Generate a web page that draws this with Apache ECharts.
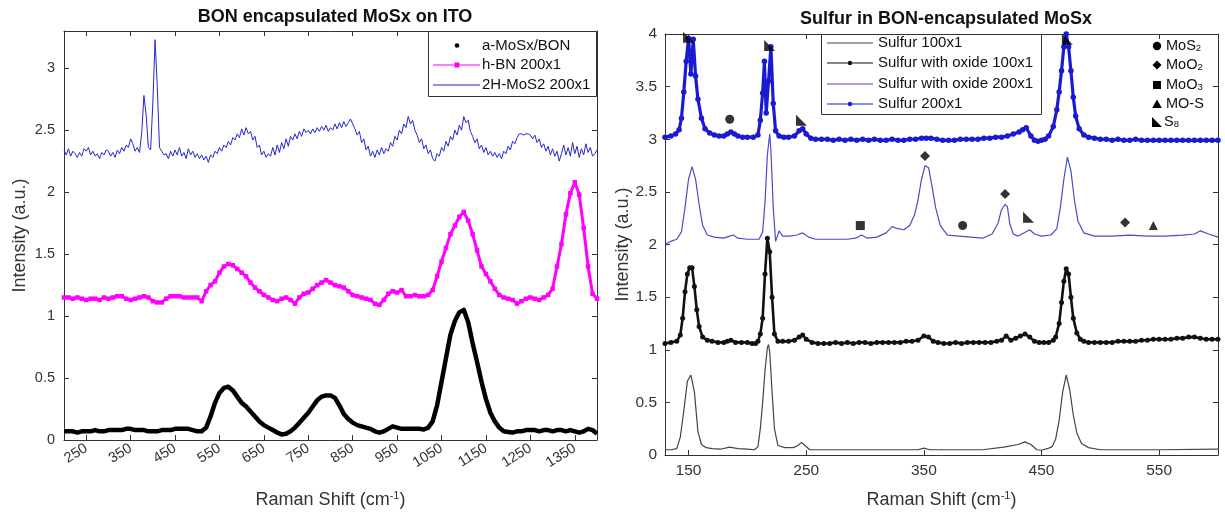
<!DOCTYPE html>
<html>
<head>
<meta charset="utf-8">
<script src="https://cdn.jsdelivr.net/npm/echarts@6/dist/echarts.min.js"></script>
<style>
html,body{margin:0;padding:0;background:#fff}
#chart{width:1225px;height:517px}
</style>
</head>
<body>
<div id="chart"></div>
<script>
// ---------- Left panel: BON encapsulated MoSx on ITO ----------
const bonShift = [
  200,210,220,230,240,250,260,270,280,290,
  300,310,320,330,340,350,360,370,380,390,
  400,410,420,430,440,450,460,470,480,490,
  500,510,520,530,540,550,560,570,580,590,
  600,610,620,630,640,650,660,670,680,690,
  700,710,720,730,740,750,760,770,780,790,
  800,810,820,830,840,850,860,870,880,890,
  900,910,920,930,940,950,960,970,980,990,
  1000,1010,1020,1030,1040,1050,1060,1070,1080,1090,
  1100,1110,1120,1130,1140,1150,1160,1170,1180,1190,
  1200,1210,1220,1230,1240,1250,1260,1270,1280,1290,
  1300,1310,1320,1330,1340,1350,1360,1370,1380,1390,
  1400
];
const aMoSxBON = [
  0.07,0.07,0.07,0.06,0.07,0.07,0.07,0.08,0.07,0.07,
  0.08,0.08,0.08,0.08,0.09,0.09,0.08,0.08,0.08,0.07,
  0.07,0.07,0.08,0.08,0.08,0.09,0.09,0.09,0.09,0.08,
  0.07,0.07,0.10,0.19,0.30,0.38,0.42,0.43,0.40,0.35,
  0.30,0.27,0.23,0.19,0.15,0.12,0.10,0.08,0.06,0.045,
  0.05,0.07,0.10,0.14,0.18,0.22,0.27,0.32,0.35,0.36,
  0.36,0.34,0.28,0.21,0.17,0.14,0.12,0.11,0.10,0.09,
  0.07,0.06,0.07,0.09,0.11,0.10,0.09,0.09,0.09,0.09,
  0.09,0.085,0.10,0.15,0.28,0.47,0.66,0.85,0.96,1.03,
  1.05,0.95,0.78,0.63,0.47,0.33,0.22,0.15,0.10,0.07,
  0.065,0.06,0.07,0.07,0.08,0.08,0.08,0.07,0.08,0.08,
  0.07,0.08,0.08,0.07,0.08,0.07,0.06,0.07,0.09,0.08,
  0.05
];
const hBN200 = [
  1.15,1.15,1.14,1.15,1.14,1.13,1.14,1.14,1.13,1.15,
  1.14,1.15,1.16,1.16,1.14,1.13,1.14,1.15,1.16,1.15,
  1.12,1.11,1.11,1.14,1.16,1.16,1.16,1.15,1.15,1.15,
  1.15,1.12,1.20,1.25,1.28,1.35,1.40,1.42,1.41,1.38,
  1.35,1.32,1.27,1.23,1.20,1.17,1.15,1.13,1.12,1.14,
  1.15,1.13,1.10,1.15,1.18,1.19,1.22,1.25,1.27,1.29,
  1.27,1.25,1.24,1.23,1.20,1.17,1.16,1.15,1.14,1.13,
  1.10,1.09,1.13,1.18,1.20,1.19,1.21,1.16,1.16,1.17,
  1.16,1.16,1.17,1.21,1.32,1.44,1.55,1.66,1.73,1.80,
  1.84,1.77,1.66,1.53,1.40,1.34,1.28,1.22,1.17,1.15,
  1.14,1.13,1.10,1.12,1.14,1.15,1.14,1.13,1.15,1.17,
  1.22,1.40,1.58,1.82,1.99,2.08,1.98,1.71,1.40,1.18,
  1.14
];
const mos2Shift = [
  200,205,210,215,220,225,230,235,240,245,250,255,260,265,270,275,280,285,290,295,
  300,305,310,315,320,325,330,335,340,345,350,355,360,365,370,375,380,385,390,395,
  400,405,410,415,420,425,430,435,440,445,450,455,460,465,470,475,480,485,490,495,
  500,505,510,515,520,525,530,535,540,545,550,555,560,565,570,575,580,585,590,595,
  600,605,610,615,620,625,630,635,640,645,650,655,660,665,670,675,680,685,690,695,
  700,705,710,715,720,725,730,735,740,745,750,755,760,765,770,775,780,785,790,795,
  800,805,810,815,820,825,830,835,840,845,850,855,860,865,870,875,880,885,890,895,
  900,905,910,915,920,925,930,935,940,945,950,955,960,965,970,975,980,985,990,995,
  1000,1005,1010,1015,1020,1025,1030,1035,1040,1045,1050,1055,1060,1065,1070,1075,1080,1085,1090,1095,
  1100,1105,1110,1115,1120,1125,1130,1135,1140,1145,1150,1155,1160,1165,1170,1175,1180,1185,1190,1195,
  1200,1205,1210,1215,1220,1225,1230,1235,1240,1245,1250,1255,1260,1265,1270,1275,1280,1285,1290,1295,
  1300,1305,1310,1315,1320,1325,1330,1335,1340,1345,1350,1355,1360,1365,1370,1375,1380,1385,1390,1395,
  1400
];
const mos2_200 = [
  2.34,2.30,2.35,2.29,2.33,2.31,2.28,2.32,2.29,2.35,2.33,2.36,2.30,2.33,2.29,2.31,2.27,2.32,2.30,2.34,
  2.33,2.29,2.32,2.28,2.34,2.31,2.36,2.33,2.38,2.36,2.43,2.39,2.33,2.36,2.32,2.48,2.78,2.62,2.36,2.34,
  2.72,3.23,2.85,2.36,2.33,2.30,2.31,2.27,2.33,2.29,2.34,2.30,2.36,2.29,2.32,2.27,2.35,2.30,2.33,2.28,
  2.31,2.27,2.30,2.26,2.29,2.24,2.30,2.28,2.33,2.31,2.36,2.33,2.38,2.36,2.41,2.38,2.44,2.42,2.47,2.44,
  2.51,2.46,2.52,2.47,2.49,2.42,2.45,2.36,2.38,2.30,2.33,2.28,2.31,2.29,2.36,2.30,2.38,2.32,2.40,2.35,
  2.43,2.37,2.45,2.42,2.47,2.43,2.49,2.45,2.51,2.48,2.50,2.47,2.51,2.48,2.52,2.49,2.53,2.50,2.54,2.49,
  2.52,2.50,2.55,2.51,2.56,2.52,2.57,2.53,2.56,2.59,2.55,2.51,2.46,2.49,2.40,2.43,2.34,2.37,2.29,2.33,
  2.28,2.34,2.30,2.36,2.31,2.35,2.33,2.40,2.37,2.45,2.42,2.50,2.47,2.55,2.52,2.61,2.55,2.58,2.50,2.46,
  2.40,2.43,2.35,2.38,2.31,2.34,2.27,2.25,2.31,2.29,2.36,2.33,2.41,2.37,2.45,2.42,2.50,2.46,2.54,2.50,
  2.61,2.56,2.58,2.49,2.45,2.40,2.43,2.35,2.38,2.32,2.36,2.30,2.33,2.29,2.32,2.28,2.31,2.27,2.33,2.31,
  2.37,2.34,2.41,2.39,2.44,2.47,2.47,2.46,2.47,2.47,2.46,2.43,2.46,2.40,2.43,2.36,2.39,2.33,2.37,2.30,
  2.35,2.29,2.33,2.25,2.31,2.38,2.30,2.36,2.29,2.40,2.31,2.37,2.28,2.35,2.30,2.39,2.32,2.36,2.29,2.31,
  2.34
];
const leftXTicks = [250,350,450,550,650,750,850,950,1050,1150,1250,1350];
const leftYTicks = [0,0.5,1,1.5,2,2.5,3];

// ---------- Right panel: Sulfur in BON-encapsulated MoSx ----------
// [Raman shift, intensity] pairs
const sulfur100 = [
  [130,0.05],[135,0.05],[140,0.06],[143,0.17],[146,0.42],[149,0.70],[152,0.76],[155,0.60],[158,0.22],[161,0.10],
  [165,0.07],[170,0.06],[177,0.055],[185,0.075],[192,0.06],[200,0.055],[206,0.05],[209,0.08],[211,0.25],[213,0.50],
  [215,0.80],[217,1.02],[218,1.05],[219,0.98],[221,0.60],[223,0.25],[226,0.09],[232,0.07],[239,0.07],[243,0.09],
  [246,0.12],[249,0.09],[253,0.05],[260,0.05],[300,0.05],[345,0.05],[350,0.065],[355,0.05],[400,0.05],[418,0.075],
  [430,0.10],[436,0.125],[441,0.10],[446,0.05],[450,0.045],[455,0.06],[459,0.08],[462,0.15],[465,0.33],[468,0.60],
  [471,0.76],[474,0.62],[477,0.38],[480,0.21],[484,0.11],[490,0.07],[500,0.05],[550,0.05],[600,0.055]
];
const sulfurOxide100 = [
  [130,1.06],[135,1.07],[140,1.08],[143,1.14],[145,1.30],[147,1.55],[149,1.72],[151,1.78],[153,1.78],[155,1.60],
  [157,1.38],[159,1.22],[162,1.12],[166,1.09],[170,1.08],[175,1.07],[180,1.07],[183,1.08],[186,1.09],[190,1.07],
  [195,1.07],[200,1.07],[204,1.06],[207,1.06],[209,1.08],[211,1.15],[213,1.30],[215,1.72],[217,2.06],[219,1.93],
  [221,1.50],[223,1.15],[226,1.08],[230,1.08],[235,1.08],[240,1.09],[244,1.12],[247,1.14],[250,1.10],[255,1.07],
  [260,1.06],[265,1.06],[270,1.06],[275,1.07],[280,1.06],[285,1.07],[290,1.06],[295,1.07],[300,1.07],[305,1.06],
  [310,1.07],[315,1.07],[320,1.07],[325,1.07],[330,1.07],[335,1.08],[340,1.08],[345,1.09],[350,1.13],[354,1.12],
  [358,1.08],[362,1.07],[367,1.06],[372,1.06],[377,1.07],[382,1.06],[387,1.07],[392,1.07],[397,1.07],[402,1.07],
  [407,1.07],[412,1.08],[416,1.09],[420,1.13],[424,1.09],[428,1.11],[432,1.13],[436,1.15],[440,1.12],[444,1.08],
  [448,1.07],[452,1.07],[456,1.07],[460,1.09],[462,1.12],[465,1.25],[467,1.45],[469,1.65],[471,1.77],[473,1.72],
  [475,1.50],[477,1.30],[480,1.16],[483,1.10],[486,1.08],[490,1.07],[495,1.07],[500,1.07],[505,1.07],[510,1.07],
  [515,1.08],[520,1.08],[525,1.08],[530,1.08],[535,1.09],[540,1.09],[545,1.10],[550,1.10],[555,1.10],[560,1.10],
  [565,1.11],[570,1.11],[575,1.12],[580,1.12],[585,1.11],[590,1.10],[595,1.10],[600,1.10]
];
const sulfurOxide200 = [
  [130,2.00],[135,2.03],[140,2.05],[144,2.12],[147,2.35],[150,2.62],[153,2.74],[156,2.62],[159,2.38],[162,2.18],
  [166,2.09],[172,2.07],[180,2.06],[185,2.08],[188,2.09],[192,2.06],[200,2.05],[210,2.05],[213,2.12],[215,2.40],
  [217,2.85],[219,3.05],[220,2.90],[222,2.35],[224,2.03],[227,2.13],[230,2.08],[236,2.08],[242,2.09],[247,2.11],
  [252,2.07],[258,2.05],[270,2.05],[285,2.05],[292,2.06],[297,2.09],[302,2.06],[310,2.07],[318,2.11],[323,2.17],
  [328,2.15],[333,2.14],[338,2.18],[342,2.28],[345,2.42],[348,2.62],[351,2.75],[354,2.73],[357,2.55],[360,2.35],
  [364,2.18],[370,2.09],[380,2.08],[390,2.07],[400,2.06],[408,2.10],[413,2.20],[416,2.33],[419,2.38],[421,2.36],
  [423,2.20],[426,2.10],[430,2.08],[435,2.11],[440,2.14],[444,2.10],[450,2.08],[458,2.09],[463,2.15],[466,2.35],
  [469,2.62],[472,2.83],[475,2.70],[478,2.42],[481,2.22],[486,2.11],[495,2.08],[510,2.08],[525,2.09],[540,2.08],
  [555,2.08],[570,2.09],[580,2.10],[585,2.13],[592,2.10],[600,2.07]
];
const sulfur200 = [
  [130,3.02],[135,3.03],[139,3.05],[142,3.09],[144,3.20],[146,3.45],[148,3.74],[150,3.96],[152,3.62],[154,3.95],
  [156,3.60],[158,3.38],[161,3.20],[164,3.10],[168,3.06],[172,3.04],[176,3.03],[180,3.03],[183,3.05],[186,3.07],
  [189,3.05],[192,3.03],[196,3.02],[200,3.02],[205,3.02],[209,3.04],[211,3.18],[213,3.44],[214.5,3.74],[216,3.25],
  [218,3.55],[220,3.88],[222,3.34],[224,3.08],[227,3.03],[231,3.02],[235,3.02],[240,3.03],[244,3.08],[247,3.10],
  [250,3.05],[254,3.01],[258,3.00],[263,3.00],[268,3.00],[273,2.99],[278,3.00],[283,2.99],[288,3.00],[293,2.99],
  [298,3.00],[303,2.99],[308,3.00],[313,2.99],[318,2.99],[323,3.00],[328,2.99],[333,2.99],[338,3.00],[343,3.00],
  [348,3.01],[352,3.01],[356,3.01],[361,3.00],[366,2.99],[371,2.99],[376,2.99],[381,3.00],[386,3.00],[391,3.00],
  [396,3.00],[401,3.01],[406,3.01],[411,3.02],[416,3.02],[421,3.03],[426,3.05],[431,3.07],[434,3.09],[437,3.11],
  [441,3.03],[444,2.99],[447,2.98],[450,2.99],[453,3.00],[456,3.03],[460,3.12],[463,3.28],[465,3.45],[467,3.65],
  [469,3.88],[471,4.00],[473,3.88],[475,3.65],[477,3.40],[479,3.22],[482,3.10],[486,3.04],[490,3.02],[495,3.01],
  [500,3.00],[505,3.00],[510,2.99],[515,3.00],[520,2.99],[525,2.99],[530,3.00],[535,2.99],[540,2.99],[545,2.99],
  [550,2.99],[555,2.99],[560,2.99],[565,2.99],[570,2.99],[575,2.99],[580,2.99],[585,2.99],[590,2.99],[595,2.99],
  [600,2.99]
];

// phase assignments marked above the peaks
const mos2Marks = [[185,3.19],[383,2.18]];
const moo2Marks = [[351,2.84],[419,2.48],[521,2.21]];
const moo3Marks = [[296,2.18]];
const moSMarks = [[545,2.18]];
const s8Marks = [[150,3.97],[219,3.89],[246,3.18],[472,3.95],[439,2.26]];

const rightXTicks = [150,250,350,450,550];
const rightYTicks = [0,0.5,1,1.5,2,2.5,3,3.5,4];

// ---------- chart ----------
const FONT = '"Liberation Sans", Arial, sans-serif';
const AXIS_COLOR = '#333';
const zip = (xs, ys) => xs.map((x, i) => [x, ys[i]]);
const S8_PATH = 'path://M0,0L0,10L10,10Z';
const plain = v => String(v);

function xAxisPair(grid, min, max, ticks, rotate, margin, gap, labelSize) {
  const base = {
    gridIndex: grid, type: 'value', min: min, max: max,
    splitLine: {show: false},
    axisLine: {show: true, onZero: false, lineStyle: {color: AXIS_COLOR, width: 1}},
    axisTick: {show: true, inside: true, length: 5, customValues: ticks, lineStyle: {color: AXIS_COLOR}}
  };
  return [
    Object.assign({}, base, {
      position: 'bottom',
      axisLabel: {customValues: ticks, formatter: plain, rotate: rotate, margin: margin,
                  fontSize: labelSize, color: '#333', fontFamily: FONT},
      name: '{t|Raman Shift (cm}{sup|-1}{t|)}',
      nameLocation: 'middle', nameGap: gap,
      nameTextStyle: {rich: {
        t: {fontSize: 18, color: '#333', fontFamily: FONT, lineHeight: 21},
        sup: {fontSize: 11, color: '#333', fontFamily: FONT, verticalAlign: 'top', lineHeight: 11}
      }}
    }),
    Object.assign({}, base, {position: 'top', axisLabel: {show: false}})
  ];
}

function yAxisPair(grid, min, max, ticks, margin, gap, labelSize) {
  const base = {
    gridIndex: grid, type: 'value', min: min, max: max,
    splitLine: {show: false},
    axisLine: {show: true, onZero: false, lineStyle: {color: AXIS_COLOR, width: 1}},
    axisTick: {show: true, inside: true, length: 5, customValues: ticks, lineStyle: {color: AXIS_COLOR}}
  };
  return [
    Object.assign({}, base, {
      position: 'left',
      axisLabel: {customValues: ticks, formatter: plain, margin: margin, fontSize: labelSize, color: '#333', fontFamily: FONT},
      name: 'Intensity (a.u.)', nameLocation: 'middle', nameGap: gap,
      nameTextStyle: {fontSize: 18, color: '#333', fontFamily: FONT}
    }),
    Object.assign({}, base, {position: 'right', axisLabel: {show: false}})
  ];
}

const leftX = xAxisPair(0, 200, 1400, leftXTicks, 32, 7, 50, 14.5);
const rightX = xAxisPair(1, 130, 600, rightXTicks, 0, 8, 35, 15.5);
const leftY = yAxisPair(0, 0, 3.3, leftYTicks, 9, 35, 14.5);
const rightY = yAxisPair(1, 0, 4, rightYTicks, 8, 33, 15.5);

function markSeries(name, data, symbol, size) {
  return {
    name: name, type: 'scatter', xAxisIndex: 2, yAxisIndex: 2,
    data: data, symbol: symbol, symbolSize: size,
    itemStyle: {color: '#000'}, z: 5, silent: true
  };
}

// legend boxes and the phase key
const legendText = (x, y, text, size) => ({
  type: 'text', x: x, y: y, silent: true, z: 12,
  style: {text: text, font: size + 'px ' + FONT, fill: '#111', verticalAlign: 'middle', align: 'left'}
});
const richKey = (x, y, base, sub) => ({
  type: 'text', x: x, y: y, silent: true, z: 12,
  style: {
    text: base + (sub ? '{s|' + sub + '}' : ''),
    font: '14.5px ' + FONT, fill: '#111', verticalAlign: 'middle', align: 'left',
    rich: {s: {fontSize: 9.5, fontFamily: FONT, fill: '#111', verticalAlign: 'bottom', lineHeight: 9}}
  }
});

const graphics = [
  // left legend
  {type: 'rect', shape: {x: 428.5, y: 31.5, width: 168, height: 65}, style: {fill: '#fff', stroke: '#333', lineWidth: 1}, z: 10},
  {type: 'circle', shape: {cx: 457, cy: 45.5, r: 2.3}, style: {fill: '#000'}, z: 11},
  legendText(482, 45.5, 'a-MoSx/BON', 15),
  {type: 'line', shape: {x1: 433, y1: 65, x2: 480, y2: 65}, style: {stroke: '#ff00ff', lineWidth: 1.2}, z: 11},
  {type: 'rect', shape: {x: 454.5, y: 62.5, width: 5, height: 5}, style: {fill: '#ff00ff'}, z: 11},
  legendText(482, 65, 'h-BN 200x1', 15),
  {type: 'line', shape: {x1: 433, y1: 85, x2: 480, y2: 85}, style: {stroke: '#2626cc', lineWidth: 1.2}, z: 11},
  legendText(482, 85, '2H-MoS2 200x1', 15),

  // right legend
  {type: 'rect', shape: {x: 821.5, y: 34.5, width: 220, height: 80}, style: {fill: '#fff', stroke: '#333', lineWidth: 1}, z: 10},
  {type: 'line', shape: {x1: 827, y1: 43, x2: 873, y2: 43}, style: {stroke: '#444', lineWidth: 1.2}, z: 11},
  legendText(878, 43, 'Sulfur 100x1', 15),
  {type: 'line', shape: {x1: 827, y1: 63, x2: 873, y2: 63}, style: {stroke: '#111', lineWidth: 1.2}, z: 11},
  {type: 'circle', shape: {cx: 850, cy: 63, r: 2.2}, style: {fill: '#111'}, z: 11},
  legendText(878, 63, 'Sulfur with oxide 100x1', 15),
  {type: 'line', shape: {x1: 827, y1: 84, x2: 873, y2: 84}, style: {stroke: '#4b4bc6', lineWidth: 1.2}, z: 11},
  legendText(878, 84, 'Sulfur with oxide 200x1', 15),
  {type: 'line', shape: {x1: 827, y1: 104, x2: 873, y2: 104}, style: {stroke: '#1a1ad0', lineWidth: 1.2}, z: 11},
  {type: 'circle', shape: {cx: 850, cy: 104, r: 2.2}, style: {fill: '#1a1ad0'}, z: 11},
  legendText(878, 104, 'Sulfur 200x1', 15),

  // phase key
  {type: 'circle', shape: {cx: 1157, cy: 46, r: 4.2}, style: {fill: '#000'}, z: 11},
  richKey(1166, 46, 'MoS', '2'),
  {type: 'polygon', shape: {points: [[1157, 60.5], [1161.5, 65], [1157, 69.5], [1152.5, 65]]}, style: {fill: '#000'}, z: 11},
  richKey(1166, 65, 'MoO', '2'),
  {type: 'rect', shape: {x: 1153, y: 81, width: 8, height: 8}, style: {fill: '#000'}, z: 11},
  richKey(1166, 85, 'MoO', '3'),
  {type: 'polygon', shape: {points: [[1157, 99.5], [1161.8, 108], [1152.2, 108]]}, style: {fill: '#000'}, z: 11},
  richKey(1166, 104, 'MO-S', null),
  {type: 'polygon', shape: {points: [[1152, 117], [1152, 127], [1162, 127]]}, style: {fill: '#000'}, z: 11},
  richKey(1164, 122, 'S', '8')
];

const option = {
  animation: false,
  backgroundColor: '#fff',
  textStyle: {fontFamily: FONT},
  title: [
    {text: 'BON encapsulated MoSx on ITO', left: 330, top: 3, textAlign: 'center',
     textStyle: {fontSize: 18, fontWeight: 'bold', color: '#111', fontFamily: FONT}},
    {text: 'Sulfur in BON-encapsulated MoSx', left: 941, top: 5, textAlign: 'center',
     textStyle: {fontSize: 18, fontWeight: 'bold', color: '#111', fontFamily: FONT}}
  ],
  grid: [
    {left: 64, top: 31, width: 533, height: 409, outerBoundsMode: 'none', containLabel: false},
    {left: 665, top: 34, width: 553, height: 421, outerBoundsMode: 'none', containLabel: false}
  ],
  xAxis: [leftX[0], leftX[1], rightX[0], rightX[1]],
  yAxis: [leftY[0], leftY[1], rightY[0], rightY[1]],
  series: [
    {name: 'a-MoSx/BON', type: 'line', xAxisIndex: 0, yAxisIndex: 0,
     data: zip(bonShift, aMoSxBON), symbol: 'none',
     lineStyle: {color: '#000', width: 4.5, join: 'round'}, z: 3},
    {name: 'h-BN 200x1', type: 'line', xAxisIndex: 0, yAxisIndex: 0,
     data: zip(bonShift, hBN200), symbol: 'rect', symbolSize: 4.5, showAllSymbol: true,
     itemStyle: {color: '#ff00ff'}, lineStyle: {color: '#ff00ff', width: 3, join: 'round'}, z: 3},
    {name: '2H-MoS2 200x1', type: 'line', xAxisIndex: 0, yAxisIndex: 0,
     data: zip(mos2Shift, mos2_200), symbol: 'none',
     lineStyle: {color: '#2626cc', width: 1}, z: 2},

    {name: 'Sulfur 100x1', type: 'line', xAxisIndex: 2, yAxisIndex: 2,
     data: sulfur100, symbol: 'none',
     lineStyle: {color: '#444', width: 1.2}},
    {name: 'Sulfur with oxide 100x1', type: 'line', xAxisIndex: 2, yAxisIndex: 2,
     data: sulfurOxide100, symbol: 'circle', symbolSize: 5, showAllSymbol: true,
     itemStyle: {color: '#111'}, lineStyle: {color: '#111', width: 2.6, join: 'round'}},
    {name: 'Sulfur with oxide 200x1', type: 'line', xAxisIndex: 2, yAxisIndex: 2,
     data: sulfurOxide200, symbol: 'none',
     lineStyle: {color: '#4b4bc6', width: 1.2}},
    {name: 'Sulfur 200x1', type: 'line', xAxisIndex: 2, yAxisIndex: 2,
     data: sulfur200, symbol: 'circle', symbolSize: 5.5, showAllSymbol: true,
     itemStyle: {color: '#1a1ad0'}, lineStyle: {color: '#1a1ad0', width: 3.2, join: 'round'}},

    markSeries('MoS2', mos2Marks, 'circle', 9),
    markSeries('MoO2', moo2Marks, 'diamond', 10),
    markSeries('MoO3', moo3Marks, 'rect', 9),
    markSeries('MO-S', moSMarks, 'triangle', 9),
    markSeries('S8', s8Marks, S8_PATH, 11)
  ],
  graphic: graphics
};

const chart = echarts.init(document.getElementById('chart'), null, {renderer: 'canvas'});
chart.setOption(option);
</script>
</body>
</html>
